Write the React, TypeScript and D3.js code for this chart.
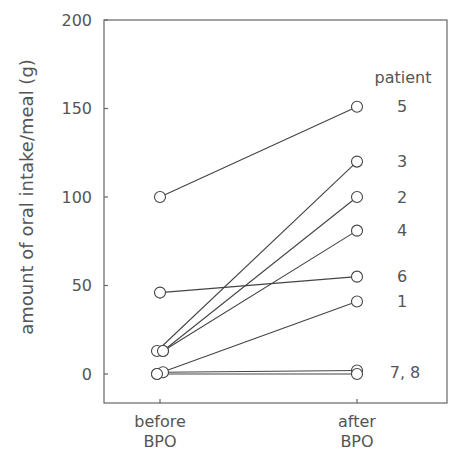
import React from "react";
import * as d3 from "d3";

const patients = ["1", "2", "3", "4", "5", "6", "7", "8"];
const beforeValues = [0, 13, 13, 13, 100, 46, 1, 0];
const afterValues = [41, 100, 120, 81, 151, 55, 2, 0];
const beforeJitter = [-3, 3, -3, 3, 0, 0, 3, -3];
const labelTexts = ["5", "3", "2", "4", "6", "1", "7, 8"];
const labelValues = [151, 120, 100, 81, 55, 41, 1];
const categories = ["before", "after"];
const categoryLines = [["before", "BPO"], ["after", "BPO"]];
const yTicks = [0, 50, 100, 150, 200];

const W = 449;
const H = 451;
const left = 104;
const right = 447;
const top = 20;
const bottom = 403;
const ink = "#555";
const font = "'DejaVu Sans', sans-serif";

export default function App() {
  const y = d3.scaleLinear().domain([0, 200]).range([374, 20]);
  const x = d3.scalePoint<string>().domain(categories).range([160, 357]);
  const line = d3.line<[number, number]>().x((d) => d[0]).y((d) => d[1]);

  return (
    <svg
      width={W}
      height={H}
      style={{ position: "absolute", left: 0, top: 0, background: "#fff" }}
    >
      <rect x={0} y={0} width={W} height={H} fill="#fff" />
      <rect
        x={left}
        y={top}
        width={right - left}
        height={bottom - top}
        fill="none"
        stroke="#666"
        strokeWidth={1.2}
      />
      {yTicks.map((t) => (
        <g key={t}>
          <line x1={left} x2={left + 4} y1={y(t)} y2={y(t)} stroke="#666" strokeWidth={1.2} />
          <text
            x={92}
            y={y(t)}
            dy="0.36em"
            textAnchor="end"
            fontFamily={font}
            fontSize={16}
            fill={ink}
          >
            {t}
          </text>
        </g>
      ))}
      {categories.map((c, i) => (
        <g key={c}>
          <line x1={x(c)!} x2={x(c)!} y1={bottom} y2={bottom - 4} stroke="#666" strokeWidth={1.2} />
          {categoryLines[i].map((s, j) => (
            <text
              key={j}
              x={x(c)!}
              y={427 + j * 20}
              textAnchor="middle"
              fontFamily={font}
              fontSize={16}
              fill={ink}
            >
              {s}
            </text>
          ))}
        </g>
      ))}
      <text
        transform={`translate(33,197) rotate(-90)`}
        textAnchor="middle"
        fontFamily={font}
        fontSize={18}
        fill={ink}
      >
        amount of oral intake/meal (g)
      </text>
      {patients.map((p, i) => (
        <path
          key={p}
          d={
            line([
              [x("before")! + beforeJitter[i], y(beforeValues[i])],
              [x("after")!, y(afterValues[i])],
            ]) || ""
          }
          fill="none"
          stroke="#444"
          strokeWidth={1.1}
        />
      ))}
      {patients.map((p, i) => (
        <g key={p}>
          <circle
            cx={x("before")! + beforeJitter[i]}
            cy={y(beforeValues[i])}
            r={5.5}
            fill="#fff"
            stroke="#444"
            strokeWidth={1.1}
          />
          <circle
            cx={x("after")!}
            cy={y(afterValues[i])}
            r={5.5}
            fill="#fff"
            stroke="#444"
            strokeWidth={1.1}
          />
        </g>
      ))}
      <text x={403} y={83} textAnchor="middle" fontFamily={font} fontSize={16} fill={ink}>
        patient
      </text>
      {labelTexts.map((t, i) => (
        <text
          key={t}
          x={t.length > 1 ? 405 : 402}
          y={y(labelValues[i])}
          dy="0.36em"
          textAnchor="middle"
          fontFamily={font}
          fontSize={16}
          fill={ink}
        >
          {t}
        </text>
      ))}
    </svg>
  );
}
